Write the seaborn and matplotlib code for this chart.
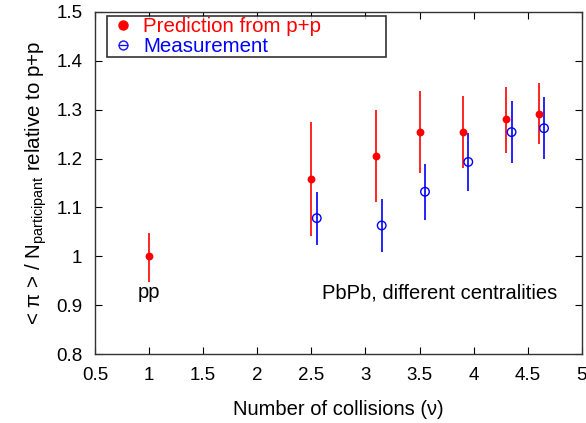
import matplotlib
matplotlib.use("Agg")
import matplotlib.pyplot as plt
import seaborn as sns
import pandas as pd
from matplotlib.lines import Line2D

# Data
pred_x = [1.0, 2.5, 3.1, 3.5, 3.9, 4.3, 4.6]
pred_y = [1.000, 1.158, 1.205, 1.254, 1.254, 1.280, 1.292]
pred_lo = [0.948, 1.042, 1.112, 1.170, 1.180, 1.212, 1.229]
pred_hi = [1.048, 1.274, 1.299, 1.339, 1.328, 1.347, 1.355]

meas_x = [2.55, 3.15, 3.55, 3.95, 4.35, 4.65]
meas_y = [1.078, 1.063, 1.132, 1.193, 1.254, 1.262]
meas_lo = [1.024, 1.009, 1.075, 1.133, 1.191, 1.199]
meas_hi = [1.132, 1.117, 1.189, 1.252, 1.318, 1.325]

xticks = [0.5, 1, 1.5, 2, 2.5, 3, 3.5, 4, 4.5, 5]
yticks = [0.8, 0.9, 1.0, 1.1, 1.2, 1.3, 1.4, 1.5]
xtick_labels = ["0.5", "1", "1.5", "2", "2.5", "3", "3.5", "4", "4.5", "5"]
ytick_labels = ["0.8", "0.9", "1", "1.1", "1.2", "1.3", "1.4", "1.5"]

sns.set_theme(style="ticks")
plt.rcParams['font.family'] = ['Liberation Sans', 'DejaVu Sans']
plt.rcParams['mathtext.fontset'] = 'custom'
plt.rcParams['mathtext.rm'] = 'Liberation Sans'
plt.rcParams['mathtext.it'] = 'Liberation Sans'
plt.rcParams['text.color'] = 'black'
plt.rcParams['axes.labelcolor'] = 'black'

fig = plt.figure(figsize=(5.86, 4.23), dpi=100)
ax = fig.add_axes([0.162, 0.163, 0.831, 0.809])

pred = pd.DataFrame({"x": pred_x, "y": pred_y, "lo": pred_lo, "hi": pred_hi})
meas = pd.DataFrame({"x": meas_x, "y": meas_y, "lo": meas_lo, "hi": meas_hi})

ax.vlines(pred["x"], pred["lo"], pred["hi"], color="red", lw=1.2, zorder=2)
ax.vlines(meas["x"], meas["lo"], meas["hi"], color="blue", lw=1.2, zorder=2)
sns.scatterplot(data=pred, x="x", y="y", ax=ax, color="red", s=32,
                marker="o", edgecolor="red", linewidth=0, zorder=3)
sns.scatterplot(data=meas, x="x", y="y", ax=ax, facecolor="none", s=38,
                marker="o", edgecolor="blue", linewidth=1.0, zorder=3)

ax.set_xlim(0.5, 5)
ax.set_ylim(0.8, 1.5)
ax.set_xticks(xticks)
ax.set_xticklabels(xtick_labels)
ax.set_yticks(yticks)
ax.set_yticklabels(ytick_labels)
ax.tick_params(direction="in", top=True, right=True, length=5, width=0.8,
               labelsize=13.5, colors="black")
ax.tick_params(axis="x", pad=9)
ax.tick_params(axis="y", pad=9)
for s in ax.spines.values():
    s.set_visible(True)
    s.set_color("#333333")
    s.set_linewidth(1.0)

ax.set_xlabel("Number of collisions (\u03bd)", fontsize=14.5, labelpad=12)
ax.set_ylabel(r"< $\pi$ > / N$_{\mathrm{participant}}$ relative to p+p", fontsize=14.8, labelpad=5)

ax.text(1.0, 0.925, "pp", fontsize=14.5, ha="center", va="center")
ax.text(2.6, 0.925, "PbPb, different centralities", fontsize=14.5, ha="left", va="center")

handles = [
    Line2D([], [], marker="o", color="red", ls="none", markersize=6.5),
    Line2D([], [], marker="$\u2296$", color="blue", ls="none", markersize=7, markeredgewidth=0.3),
]
leg = ax.legend(handles, ["Prediction from p+p", "Measurement"], loc="upper left",
                bbox_to_anchor=(0.025, 0.865, 0.573, 0.123), mode="expand",
                frameon=True, fancybox=False,
                fontsize=14.8, handletextpad=0.3, borderpad=0.05, labelspacing=0.05,
                handlelength=1.4, borderaxespad=0)
leg.get_frame().set_edgecolor("black")
leg.get_frame().set_linewidth(1.2)
for t, c in zip(leg.get_texts(), ["red", "blue"]):
    t.set_color(c)

fig.savefig("out.png", dpi=100)
